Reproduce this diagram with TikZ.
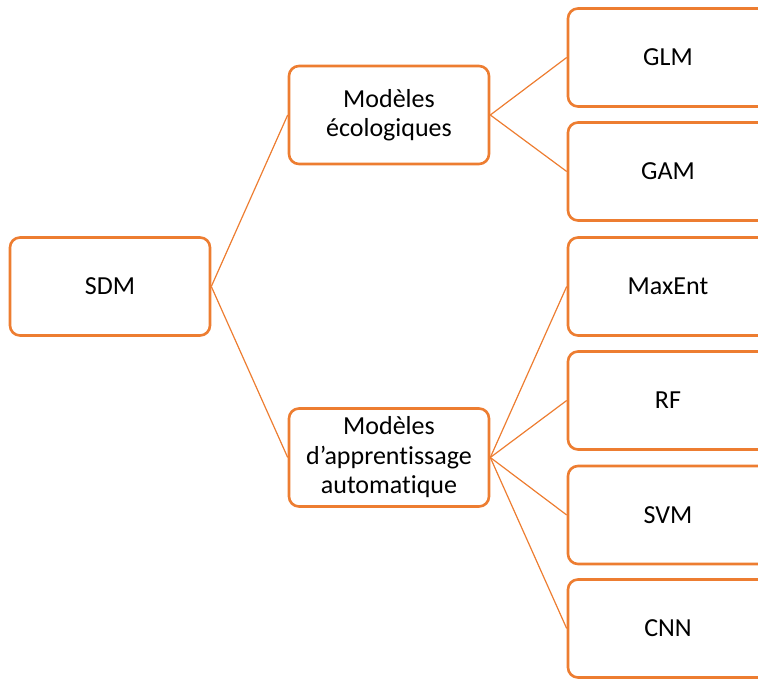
\documentclass[tikz,border=0pt]{standalone}
\usepackage{fontspec}
\setmainfont[Ligatures=NoCommon]{Carlito}
\definecolor{accent}{HTML}{ED7D31}
\begin{document}
\begin{tikzpicture}[x=1pt,y=1pt,
  box/.style={draw=accent, line width=2.6pt, fill=white, rounded corners=10pt,
    minimum width=200pt, minimum height=98pt, inner sep=0pt, align=center,
    font=\fontsize{26}{29.5}\selectfont},
  link/.style={draw=accent, line width=1.2pt}]
\useasboundingbox (0,0) rectangle (758,679);
\clip (0,0) rectangle (758,679);
% tree nodes
\node[box] (sdm) at (110,392.5) {SDM};
\node[box] (eco) at (389,564) {Modèles\\écologiques};
\node[box] (app) at (389,221.5) {Modèles\\d’apprentissage\\automatique};
\node[box] (glm) at (668,621.5) {GLM};
\node[box] (gam) at (668,507.5) {GAM};
\node[box] (maxent) at (668,392.5) {MaxEnt};
\node[box] (rf) at (668,278.5) {RF};
\node[box] (svm) at (668,164) {SVM};
\node[box] (cnn) at (668,50.5) {CNN};
% branches
\draw[link] (sdm.east) -- (eco.west);
\draw[link] (sdm.east) -- (app.west);
\draw[link] (eco.east) -- (glm.west);
\draw[link] (eco.east) -- (gam.west);
\draw[link] (app.east) -- (maxent.west);
\draw[link] (app.east) -- (rf.west);
\draw[link] (app.east) -- (svm.west);
\draw[link] (app.east) -- (cnn.west);
\end{tikzpicture}
\end{document}
